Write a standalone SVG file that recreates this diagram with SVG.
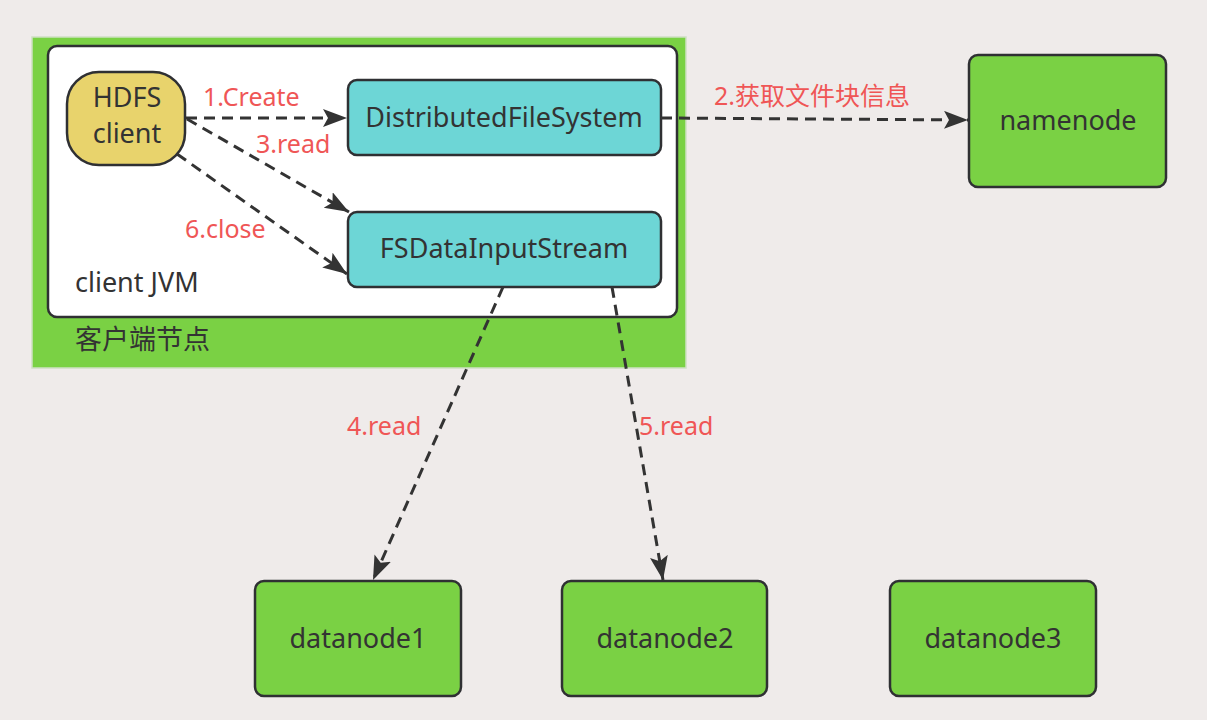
<svg xmlns="http://www.w3.org/2000/svg" width="1207" height="720" viewBox="0 0 1207 720">
<defs>
<style>
.node{stroke:#2f3033;stroke-width:2.5}
.green{fill:#7ad144}
.cyan{fill:#6dd6d6}
.t{font-family:"Noto Sans","Open Sans","Noto Sans CJK SC",sans-serif;fill:#333;font-size:27px}
.lbl{font-family:"Noto Sans","Noto Sans CJK SC",sans-serif;fill:#ef5656;font-size:25px}
.c{fill:none;stroke:#333;stroke-width:3;stroke-dasharray:11 7}
</style>
<marker id="ah" markerUnits="userSpaceOnUse" markerWidth="26" markerHeight="20" refX="24" refY="9" orient="auto">
<path d="M0,0 L24,9 L0,18 L5,9 z" fill="#333"/>
</marker>
</defs>
<rect x="0" y="0" width="1207" height="720" fill="#efebea"/>
<g id="client-node">
<rect x="32" y="37" width="654" height="331" fill="#7ad144" stroke="#cfe0c4" stroke-width="1.5"/>
<text class="t" x="75" y="349" font-size="27">客户端节点</text>
</g>
<g id="client-jvm">
<rect x="48" y="46" width="629" height="271" rx="9" fill="#ffffff" class="node"/>
<text class="t" x="75" y="292" font-size="29">client JVM</text>
</g>
<g id="hdfs-client">
<rect x="67" y="72" width="118" height="93" rx="32" fill="#e8d36c" class="node"/>
<text class="t" x="127" y="107" text-anchor="middle" font-size="28">HDFS</text>
<text class="t" x="127" y="143" text-anchor="middle" font-size="28">client</text>
</g>
<g id="dfs">
<rect x="348" y="80" width="313" height="75" rx="9" class="node cyan"/>
<text class="t" x="504" y="127" text-anchor="middle">DistributedFileSystem</text>
</g>
<g id="fsdis">
<rect x="348" y="212" width="313" height="75" rx="9" class="node cyan"/>
<text class="t" x="504" y="258" text-anchor="middle">FSDataInputStream</text>
</g>
<g id="namenode">
<rect x="969" y="55" width="197" height="132" rx="9" class="node green"/>
<text class="t" x="1068" y="130" text-anchor="middle">namenode</text>
</g>
<g id="datanode1">
<rect x="255" y="581" width="206" height="115" rx="9" class="node green"/>
<text class="t" x="358" y="648" text-anchor="middle">datanode1</text>
</g>
<g id="datanode2">
<rect x="562" y="581" width="205" height="115" rx="9" class="node green"/>
<text class="t" x="665" y="648" text-anchor="middle">datanode2</text>
</g>
<g id="datanode3">
<rect x="890" y="581" width="206" height="115" rx="9" class="node green"/>
<text class="t" x="993" y="648" text-anchor="middle">datanode3</text>
</g>
<g id="connectors">
<path class="c" d="M186,118 L347,118" marker-end="url(#ah)"/>
<path class="c" d="M661,118 L968,120" marker-end="url(#ah)"/>
<path class="c" d="M187,119 L349,212" marker-end="url(#ah)"/>
<path class="c" d="M177,154 L347,274" marker-end="url(#ah)"/>
<path class="c" d="M503,287 L373,580" marker-end="url(#ah)"/>
<path class="c" d="M612,287 L663,580" marker-end="url(#ah)"/>
<text class="lbl" x="203" y="106">1.Create</text>
<text class="lbl" x="714" y="105">2.获取文件块信息</text>
<text class="lbl" x="256" y="153">3.read</text>
<text class="lbl" x="347" y="435">4.read</text>
<text class="lbl" x="639" y="435">5.read</text>
<text class="lbl" x="185" y="238">6.close</text>
</g>
</svg>
